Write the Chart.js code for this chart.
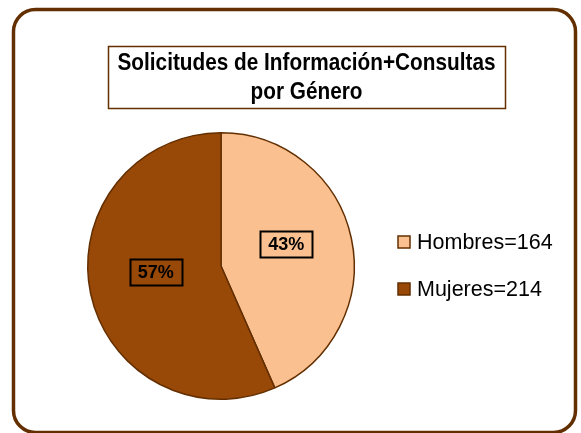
<!DOCTYPE html>
<html>
<head>
<meta charset="utf-8">
<script src="https://cdn.jsdelivr.net/npm/chart.js@4.4.1/dist/chart.umd.min.js"></script>
<style>
  html, body { margin: 0; padding: 0; background: #ffffff; }
  #wrap { width: 581px; height: 433px; }
</style>
</head>
<body>
<div id="wrap"><canvas id="c" width="581" height="433"></canvas></div>
<script>
const categories = ['Hombres', 'Mujeres'];
const values = [164, 214];
const titleLines = ['Solicitudes de Información+Consultas', 'por Género'];
const sliceColors = ['#FAC090', '#984807'];

const BROWN = '#632f00';

const framePlugin = {
  id: 'frame',
  beforeDraw(chart) {
    const ctx = chart.ctx;
    ctx.save();
    ctx.fillStyle = '#ffffff';
    ctx.fillRect(0, 0, chart.width, chart.height);
    ctx.beginPath();
    ctx.roundRect(13.5, 9.5, 562, 423, 22);
    ctx.lineWidth = 3.5;
    ctx.strokeStyle = BROWN;
    ctx.stroke();
    ctx.restore();
  },
  afterDraw(chart) {
    const ctx = chart.ctx;
    ctx.save();
    // title box
    ctx.fillStyle = '#ffffff';
    ctx.fillRect(108, 46, 397, 62);
    ctx.lineWidth = 1.5;
    ctx.strokeStyle = BROWN;
    ctx.strokeRect(108.5, 46.5, 397, 62);
    ctx.fillStyle = '#000000';
    ctx.font = 'bold 24px "Liberation Sans Narrow", "Arial Narrow", "Liberation Sans", Arial, sans-serif';
    ctx.textAlign = 'center';
    ctx.textBaseline = 'alphabetic';
    const maxW = 378;
    const w0 = ctx.measureText(titleLines[0]).width;
    const sx = w0 > maxW ? maxW / w0 : 1;
    ctx.save();
    ctx.translate(306.5, 0);
    ctx.scale(sx, 1);
    ctx.fillText(titleLines[0], 0, 70);
    ctx.fillText(titleLines[1], 0, 99);
    ctx.restore();

    // percentage labels
    const meta = chart.getDatasetMeta(0);
    const ds = chart.data.datasets[0].data;
    const total = ds.reduce((a, b) => a + b, 0);
    ctx.font = 'bold 18px "Liberation Sans", Arial, sans-serif';
    ctx.textBaseline = 'middle';
    meta.data.forEach((arc, i) => {
      const p = arc.getCenterPoint();
      const cx = p.x, cy = p.y - 8;
      const txt = Math.round(ds[i] / total * 100) + '%';
      const w = 52, h = 26;
      ctx.lineWidth = 2;
      ctx.strokeStyle = '#000000';
      ctx.strokeRect(Math.round(cx - w / 2) + 0.5, Math.round(cy - h / 2) + 0.5, w, h);
      ctx.fillStyle = '#000000';
      ctx.fillText(txt, cx, cy + 1);
    });

    // legend
    ctx.font = '21.5px "Liberation Sans", Arial, sans-serif';
    ctx.textAlign = 'left';
    const legY = [242, 289];
    chart.data.labels.forEach((lab, i) => {
      const y = legY[i];
      ctx.fillStyle = sliceColors[i];
      ctx.fillRect(398, y - 6, 12, 12);
      ctx.lineWidth = 1.5;
      ctx.strokeStyle = BROWN;
      ctx.strokeRect(398, y - 6, 12, 12);
      ctx.fillStyle = '#000000';
      ctx.fillText(lab + '=' + ds[i], 417, y + 1);
    });
    ctx.restore();
  }
};

new Chart(document.getElementById('c'), {
  type: 'pie',
  data: {
    labels: categories,
    datasets: [{
      data: values,
      backgroundColor: sliceColors,
      borderColor: BROWN,
      borderWidth: 1.5,
      borderAlign: 'center'
    }]
  },
  options: {
    responsive: false,
    animation: false,
    events: [],
    layout: { padding: { left: 87, right: 226, top: 132, bottom: 33 } },
    plugins: {
      legend: { display: false },
      title: { display: false },
      tooltip: { enabled: false }
    }
  },
  plugins: [framePlugin]
});
</script>
</body>
</html>
